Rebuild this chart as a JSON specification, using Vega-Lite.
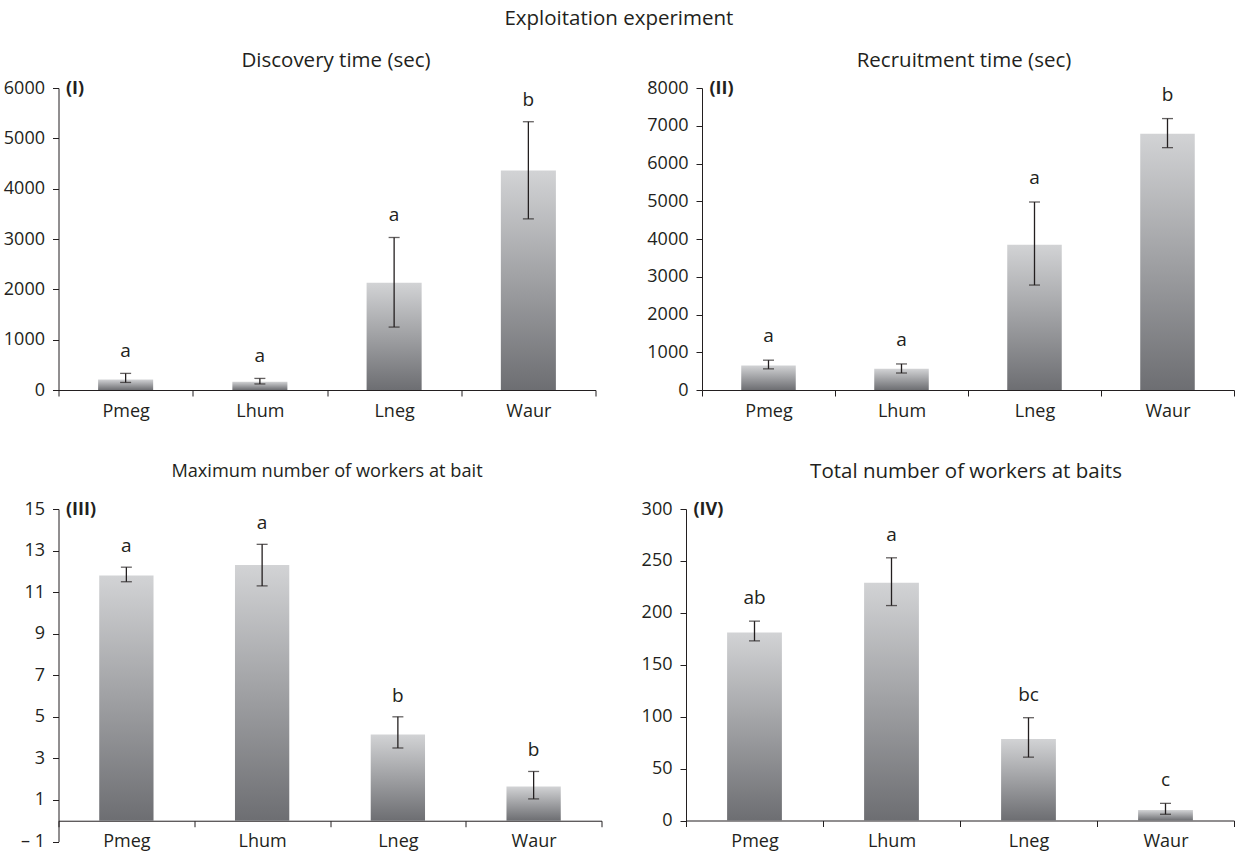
{
  "$schema": "https://vega.github.io/schema/vega-lite/v6.json",
  "background": "white",
  "padding": {"left": 2.5, "top": 9, "right": 4, "bottom": 4},
  "title": {"text": "Exploitation experiment", "fontSize": 20.5, "fontWeight": "normal", "color": "#231f20", "anchor": "middle", "offset": 21},
  "config": {
    "font": "Open Sans",
    "view": {"stroke": null},
    "axis": {"domainColor": "#231f20", "tickColor": "#231f20", "labelColor": "#231f20", "labelFont": "Open Sans", "labelFontSize": 18, "grid": false, "tickSize": 6, "domainWidth": 1, "tickWidth": 1, "titleColor": "#231f20", "titleFont": "Open Sans", "labelOverlap": false},
    "axisX": {"labelAngle": 0, "tickBand": "extent", "title": null, "labelPadding": 6},
    "axisY": {"labelPadding": 8, "titleAngle": 0, "titleX": 7, "titleY": 0, "titleAlign": "left", "titleBaseline": "middle", "titleFontWeight": "bold", "titleFontSize": 18, "labelOverlap": false},
    "title": {"fontWeight": "normal", "fontSize": 20.5, "color": "#231f20", "font": "Open Sans"},
    "text": {"font": "Open Sans", "color": "#231f20"}
  },
  "spacing": 41,
  "vconcat": [
    {
      "spacing": 49.5,
      "hconcat": [
        {
          "width": 537, "height": 302,
          "title": {"text": "Discovery time (sec)", "dx": 9, "offset": 8},
          "data": {"values": [
            {"species": "Pmeg", "mean": 210, "lo": 150, "hi": 330, "letter": "a"},
            {"species": "Lhum", "mean": 165, "lo": 120, "hi": 230, "letter": "a"},
            {"species": "Lneg", "mean": 2130, "lo": 1250, "hi": 3030, "letter": "a"},
            {"species": "Waur", "mean": 4360, "lo": 3400, "hi": 5330, "letter": "b"}
          ]},
          "encoding": {"x": {"field": "species", "type": "nominal", "sort": null, "scale": {"paddingInner": 0, "paddingOuter": 0}, "axis": {"title": null}}},
          "layer": [
            {"mark": {"type": "bar", "width": {"band": 0.41}, "color": {"gradient": "linear", "x1": 0, "y1": 0, "x2": 0, "y2": 1, "stops": [{"offset": 0, "color": "#d2d3d5"}, {"offset": 1, "color": "#6d6e72"}]}},
             "encoding": {"y": {"field": "mean", "type": "quantitative", "title": "(I)", "scale": {"domain": [0, 6000], "nice": false}, "axis": {"values": [0, 1000, 2000, 3000, 4000, 5000, 6000], "format": "d", "labelOverlap": false}}}},
            {"mark": {"type": "rule", "color": "#231f20", "strokeWidth": 1.3}, "encoding": {"y": {"field": "lo", "type": "quantitative", "title": "(I)", "axis": {"values": [0, 1000, 2000, 3000, 4000, 5000, 6000], "format": "d", "labelOverlap": false}}, "y2": {"field": "hi"}}},
            {"mark": {"type": "tick", "orient": "horizontal", "size": 11, "thickness": 1.3, "color": "#231f20"}, "encoding": {"y": {"field": "lo", "type": "quantitative", "title": "(I)", "axis": {"values": [0, 1000, 2000, 3000, 4000, 5000, 6000], "format": "d", "labelOverlap": false}}}},
            {"mark": {"type": "tick", "orient": "horizontal", "size": 11, "thickness": 1.3, "color": "#231f20"}, "encoding": {"y": {"field": "hi", "type": "quantitative", "title": "(I)", "axis": {"values": [0, 1000, 2000, 3000, 4000, 5000, 6000], "format": "d", "labelOverlap": false}}}},
            {"mark": {"type": "text", "dy": -22, "fontSize": 19, "baseline": "middle"}, "encoding": {"y": {"field": "hi", "type": "quantitative", "title": "(I)", "axis": {"values": [0, 1000, 2000, 3000, 4000, 5000, 6000], "format": "d", "labelOverlap": false}}, "text": {"field": "letter"}}}
          ]
        },
        {
          "width": 532, "height": 302,
          "title": {"text": "Recruitment time (sec)", "dx": -4, "offset": 8},
          "data": {"values": [
            {"species": "Pmeg", "mean": 650, "lo": 560, "hi": 790, "letter": "a"},
            {"species": "Lhum", "mean": 560, "lo": 450, "hi": 690, "letter": "a"},
            {"species": "Lneg", "mean": 3850, "lo": 2780, "hi": 4980, "letter": "a"},
            {"species": "Waur", "mean": 6790, "lo": 6420, "hi": 7190, "letter": "b"}
          ]},
          "encoding": {"x": {"field": "species", "type": "nominal", "sort": null, "scale": {"paddingInner": 0, "paddingOuter": 0}, "axis": {"title": null}}},
          "layer": [
            {"mark": {"type": "bar", "width": {"band": 0.41}, "color": {"gradient": "linear", "x1": 0, "y1": 0, "x2": 0, "y2": 1, "stops": [{"offset": 0, "color": "#d2d3d5"}, {"offset": 1, "color": "#6d6e72"}]}},
             "encoding": {"y": {"field": "mean", "type": "quantitative", "title": "(II)", "scale": {"domain": [0, 8000], "nice": false}, "axis": {"values": [0, 1000, 2000, 3000, 4000, 5000, 6000, 7000, 8000], "format": "d", "labelOverlap": false}}}},
            {"mark": {"type": "rule", "color": "#231f20", "strokeWidth": 1.3}, "encoding": {"y": {"field": "lo", "type": "quantitative", "title": "(II)", "axis": {"values": [0, 1000, 2000, 3000, 4000, 5000, 6000, 7000, 8000], "format": "d", "labelOverlap": false}}, "y2": {"field": "hi"}}},
            {"mark": {"type": "tick", "orient": "horizontal", "size": 11, "thickness": 1.3, "color": "#231f20"}, "encoding": {"y": {"field": "lo", "type": "quantitative", "title": "(II)", "axis": {"values": [0, 1000, 2000, 3000, 4000, 5000, 6000, 7000, 8000], "format": "d", "labelOverlap": false}}}},
            {"mark": {"type": "tick", "orient": "horizontal", "size": 11, "thickness": 1.3, "color": "#231f20"}, "encoding": {"y": {"field": "hi", "type": "quantitative", "title": "(II)", "axis": {"values": [0, 1000, 2000, 3000, 4000, 5000, 6000, 7000, 8000], "format": "d", "labelOverlap": false}}}},
            {"mark": {"type": "text", "dy": -24, "fontSize": 19, "baseline": "middle"}, "encoding": {"y": {"field": "hi", "type": "quantitative", "title": "(II)", "axis": {"values": [0, 1000, 2000, 3000, 4000, 5000, 6000, 7000, 8000], "format": "d", "labelOverlap": false}}, "text": {"field": "letter"}}}
          ]
        }
      ]
    },
    {
      "spacing": 38.5,
      "hconcat": [
        {
          "width": 543, "height": 332.5,
          "title": {"text": "Maximum number of workers at bait", "fontSize": 18.2, "dx": -3, "offset": 18.5},
          "data": {"values": [
            {"species": "Pmeg", "mean": 11.8, "lo": 11.5, "hi": 12.2, "letter": "a"},
            {"species": "Lhum", "mean": 12.3, "lo": 11.3, "hi": 13.3, "letter": "a"},
            {"species": "Lneg", "mean": 4.15, "lo": 3.5, "hi": 5.0, "letter": "b"},
            {"species": "Waur", "mean": 1.65, "lo": 1.05, "hi": 2.37, "letter": "b"}
          ]},
          "encoding": {"x": {"field": "species", "type": "nominal", "sort": null, "scale": {"paddingInner": 0, "paddingOuter": 0}, "axis": {"title": null, "offset": -20.78}}},
          "layer": [
            {"mark": {"type": "bar", "width": {"band": 0.4}, "color": {"gradient": "linear", "x1": 0, "y1": 0, "x2": 0, "y2": 1, "stops": [{"offset": 0, "color": "#d2d3d5"}, {"offset": 1, "color": "#6d6e72"}]}},
             "encoding": {"y": {"field": "mean", "type": "quantitative", "title": "(III)", "scale": {"domain": [-1, 15], "nice": false}, "axis": {"values": [-1, 1, 3, 5, 7, 9, 11, 13, 15], "labelExpr": "datum.value < 0 ? '– 1' : datum.label", "labelOverlap": false}}}},
            {"mark": {"type": "rule", "color": "#231f20", "strokeWidth": 1.3}, "encoding": {"y": {"field": "lo", "type": "quantitative", "title": "(III)", "axis": {"values": [-1, 1, 3, 5, 7, 9, 11, 13, 15], "labelExpr": "datum.value < 0 ? '– 1' : datum.label", "labelOverlap": false}}, "y2": {"field": "hi"}}},
            {"mark": {"type": "tick", "orient": "horizontal", "size": 11, "thickness": 1.3, "color": "#231f20"}, "encoding": {"y": {"field": "lo", "type": "quantitative", "title": "(III)", "axis": {"values": [-1, 1, 3, 5, 7, 9, 11, 13, 15], "labelExpr": "datum.value < 0 ? '– 1' : datum.label", "labelOverlap": false}}}},
            {"mark": {"type": "tick", "orient": "horizontal", "size": 11, "thickness": 1.3, "color": "#231f20"}, "encoding": {"y": {"field": "hi", "type": "quantitative", "title": "(III)", "axis": {"values": [-1, 1, 3, 5, 7, 9, 11, 13, 15], "labelExpr": "datum.value < 0 ? '– 1' : datum.label", "labelOverlap": false}}}},
            {"mark": {"type": "text", "dy": -21, "fontSize": 19, "baseline": "middle"}, "encoding": {"y": {"field": "hi", "type": "quantitative", "title": "(III)", "axis": {"values": [-1, 1, 3, 5, 7, 9, 11, 13, 15], "labelExpr": "datum.value < 0 ? '– 1' : datum.label", "labelOverlap": false}}, "text": {"field": "letter"}}}
          ]
        },
        {
          "width": 548, "height": 311.5,
          "title": {"text": "Total number of workers at baits", "dx": 6, "offset": 18},
          "data": {"values": [
            {"species": "Pmeg", "mean": 181, "lo": 173, "hi": 192, "letter": "ab"},
            {"species": "Lhum", "mean": 229, "lo": 207, "hi": 253, "letter": "a"},
            {"species": "Lneg", "mean": 78.5, "lo": 61, "hi": 99, "letter": "bc"},
            {"species": "Waur", "mean": 10, "lo": 6, "hi": 16.5, "letter": "c"}
          ]},
          "encoding": {"x": {"field": "species", "type": "nominal", "sort": null, "scale": {"paddingInner": 0, "paddingOuter": 0}, "axis": {"title": null}}},
          "layer": [
            {"mark": {"type": "bar", "width": {"band": 0.4}, "color": {"gradient": "linear", "x1": 0, "y1": 0, "x2": 0, "y2": 1, "stops": [{"offset": 0, "color": "#d2d3d5"}, {"offset": 1, "color": "#6d6e72"}]}},
             "encoding": {"y": {"field": "mean", "type": "quantitative", "title": "(IV)", "scale": {"domain": [0, 300], "nice": false}, "axis": {"values": [0, 50, 100, 150, 200, 250, 300], "format": "d", "labelOverlap": false}}}},
            {"mark": {"type": "rule", "color": "#231f20", "strokeWidth": 1.3}, "encoding": {"y": {"field": "lo", "type": "quantitative", "title": "(IV)", "axis": {"values": [0, 50, 100, 150, 200, 250, 300], "format": "d", "labelOverlap": false}}, "y2": {"field": "hi"}}},
            {"mark": {"type": "tick", "orient": "horizontal", "size": 11, "thickness": 1.3, "color": "#231f20"}, "encoding": {"y": {"field": "lo", "type": "quantitative", "title": "(IV)", "axis": {"values": [0, 50, 100, 150, 200, 250, 300], "format": "d", "labelOverlap": false}}}},
            {"mark": {"type": "tick", "orient": "horizontal", "size": 11, "thickness": 1.3, "color": "#231f20"}, "encoding": {"y": {"field": "hi", "type": "quantitative", "title": "(IV)", "axis": {"values": [0, 50, 100, 150, 200, 250, 300], "format": "d", "labelOverlap": false}}}},
            {"mark": {"type": "text", "dy": -23, "fontSize": 19, "baseline": "middle"}, "encoding": {"y": {"field": "hi", "type": "quantitative", "title": "(IV)", "axis": {"values": [0, 50, 100, 150, 200, 250, 300], "format": "d", "labelOverlap": false}}, "text": {"field": "letter"}}}
          ]
        }
      ]
    }
  ]
}
